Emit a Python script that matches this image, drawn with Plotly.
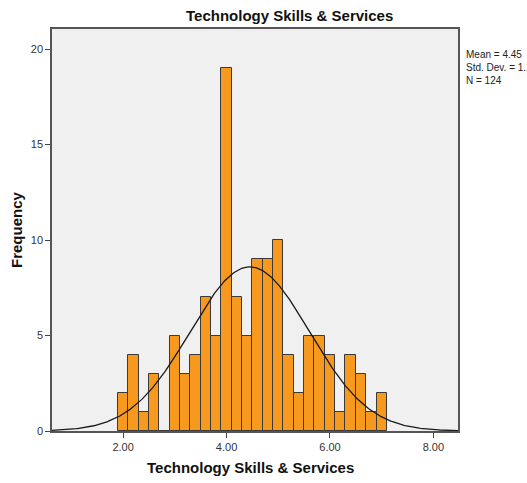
import numpy as np
import plotly.graph_objects as go

# Histogram bins (width 0.2) and frequencies
bin_starts = [1.9, 2.1, 2.3, 2.5, 2.7, 2.9, 3.1, 3.3, 3.5, 3.7, 3.9, 4.1, 4.3,
              4.5, 4.7, 4.9, 5.1, 5.3, 5.5, 5.7, 5.9, 6.1, 6.3, 6.5, 6.7, 6.9]
counts = [2, 4, 1, 3, 0, 5, 3, 4, 7, 5, 19, 7, 5,
          9, 9, 10, 4, 2, 5, 5, 4, 1, 4, 3, 1, 2]
bin_width = 0.2

# Summary statistics
mean_val = 4.45
std_val = 1.151
n_val = 124

x_ticks = [2, 4, 6, 8]
x_tick_labels = ["2.00", "4.00", "6.00", "8.00"]
y_ticks = [0, 5, 10, 15, 20]

x_range = [0.624, 8.476]
y_range = [0, 21.05]

centers = [s + bin_width / 2 for s in bin_starts]

fig = go.Figure()
fig.add_trace(go.Bar(
    x=centers, y=counts, width=bin_width,
    marker=dict(color="#F7991F", line=dict(color="#3a3a3a", width=1)),
    hoverinfo="x+y",
))

# Fitted normal curve scaled to the histogram
xc = np.linspace(x_range[0], x_range[1], 400)
yc = n_val * bin_width / (std_val * np.sqrt(2 * np.pi)) * np.exp(-0.5 * ((xc - mean_val) / std_val) ** 2)
fig.add_trace(go.Scatter(x=xc, y=yc, mode="lines",
                         line=dict(color="#1a1a1a", width=1.3), hoverinfo="skip"))

axis_common = dict(ticks="outside", ticklen=5, tickcolor="#444444", showgrid=False,
                   zeroline=False, showline=True, linecolor="#555555", linewidth=1.5,
                   mirror=True, automargin=False)

fig.update_layout(
    width=527, height=483,
    margin=dict(l=52, r=69, t=29, b=52),
    paper_bgcolor="white", plot_bgcolor="#F0F0F0",
    showlegend=False, bargap=0,
    font=dict(family="Arial, Liberation Sans, sans-serif", color="#333333", size=11),
    xaxis=dict(range=x_range, tickvals=x_ticks, ticktext=x_tick_labels, **axis_common),
    yaxis=dict(range=y_range, tickvals=y_ticks, **axis_common),
    annotations=[
        dict(text="<b>Technology Skills &amp; Services</b>", xref="paper", yref="paper",
             x=0.586, y=1.0, yshift=14, xanchor="center", yanchor="middle",
             showarrow=False, font=dict(size=15, color="#111111")),
        dict(text="<b>Technology Skills &amp; Services</b>", xref="paper", yref="paper",
             x=0.49, y=0, yshift=-36, xanchor="center", yanchor="middle",
             showarrow=False, font=dict(size=15, color="#111111")),
        dict(text="<b>Frequency</b>", xref="paper", yref="paper", textangle=-90,
             x=0, xshift=-36, y=0.5, xanchor="center", yanchor="middle",
             showarrow=False, font=dict(size=15, color="#111111")),
        dict(text=f"Mean = {mean_val:.2f}<br>Std. Dev. = {std_val:.3f}<br>N = {n_val}",
             xref="paper", yref="paper", x=1.0, xshift=6, y=0.955,
             xanchor="left", yanchor="top", align="left", showarrow=False,
             font=dict(size=10, color="#222222")),
    ],
)

fig.write_html("out.html")
